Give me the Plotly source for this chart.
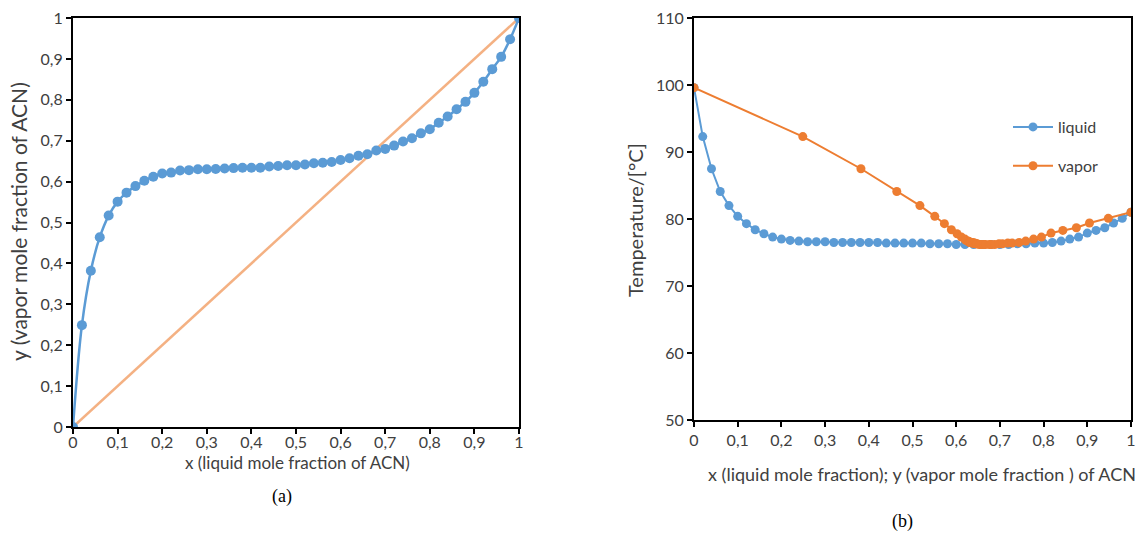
import plotly.graph_objects as go

# ---------------- data ----------------
x_liquid = [0.00, 0.02, 0.04, 0.06, 0.08, 0.10, 0.12, 0.14, 0.16, 0.18,
            0.20, 0.22, 0.24, 0.26, 0.28, 0.30, 0.32, 0.34, 0.36, 0.38,
            0.40, 0.42, 0.44, 0.46, 0.48, 0.50, 0.52, 0.54, 0.56, 0.58,
            0.60, 0.62, 0.64, 0.66, 0.68, 0.70, 0.72, 0.74, 0.76, 0.78,
            0.80, 0.82, 0.84, 0.86, 0.88, 0.90, 0.92, 0.94, 0.96, 0.98, 1.00]

y_vapor = [0.000, 0.249, 0.382, 0.464, 0.517, 0.551, 0.573, 0.589, 0.602, 0.612,
           0.620, 0.622, 0.627, 0.628, 0.630, 0.630, 0.631, 0.632, 0.633, 0.634,
           0.634, 0.634, 0.637, 0.638, 0.640, 0.640, 0.642, 0.645, 0.646, 0.648,
           0.653, 0.657, 0.663, 0.667, 0.676, 0.680, 0.688, 0.698, 0.706, 0.718,
           0.728, 0.744, 0.759, 0.777, 0.795, 0.817, 0.844, 0.875, 0.905, 0.948, 1.000]

temperature = [99.6, 92.3, 87.5, 84.1, 82.0, 80.4, 79.3, 78.4, 77.8, 77.3,
               77.0, 76.8, 76.7, 76.6, 76.6, 76.6, 76.5, 76.5, 76.5, 76.5,
               76.5, 76.5, 76.4, 76.4, 76.4, 76.4, 76.4, 76.3, 76.3, 76.3,
               76.2, 76.2, 76.2, 76.2, 76.2, 76.2, 76.2, 76.3, 76.3, 76.4,
               76.4, 76.5, 76.7, 77.0, 77.3, 77.9, 78.3, 78.7, 79.4, 80.1, 81.0]

diag = [0, 1]

BLUE = "#5B9BD5"
ORANGE = "#ED7D31"
LIGHT_ORANGE = "#F4B183"
FONT = "Lato"
TXT = "#404040"
W, H = 1136, 536


def px(v):
    return v / W


def py(v):
    return 1 - v / H


fig = go.Figure()

# (a) x-y diagram
fig.add_trace(go.Scatter(x=diag, y=diag, mode="lines",
                         line=dict(color=LIGHT_ORANGE, width=2.5),
                         xaxis="x", yaxis="y", showlegend=False))
fig.add_trace(go.Scatter(x=x_liquid, y=y_vapor, mode="lines+markers",
                         line=dict(color=BLUE, width=2.5, shape="spline"),
                         marker=dict(color=BLUE, size=10),
                         xaxis="x", yaxis="y", showlegend=False))

# (b) T-x-y diagram
fig.add_trace(go.Scatter(x=x_liquid, y=temperature, mode="lines+markers",
                         name="liquid",
                         line=dict(color=BLUE, width=2),
                         marker=dict(color=BLUE, size=9),
                         xaxis="x2", yaxis="y2", legendgroup="l"))
fig.add_trace(go.Scatter(x=y_vapor, y=temperature, mode="lines+markers",
                         name="vapor",
                         line=dict(color=ORANGE, width=2),
                         marker=dict(color=ORANGE, size=9),
                         xaxis="x2", yaxis="y2", legendgroup="v"))

axis_common = dict(showline=True, linecolor="black", linewidth=2, mirror=True,
                   ticks="outside", ticklen=5, tickwidth=1.5, tickcolor="black",
                   showgrid=False, zeroline=False,
                   tickfont=dict(family=FONT, size=16, color=TXT),
                   automargin=False)

fig.update_layout(
    width=W, height=H,
    margin=dict(l=0, r=0, t=0, b=0),
    paper_bgcolor="white", plot_bgcolor="white",
    separators=", ",
    font=dict(family=FONT, size=16, color=TXT),
    xaxis=dict(domain=[px(73), px(519)], range=[0, 1], dtick=0.1, anchor="y",
               ticklabelstandoff=-5, **axis_common),
    yaxis=dict(domain=[1 - 427 / H, 1 - 18 / H], range=[0, 1], dtick=0.1, anchor="x", **axis_common),
    xaxis2=dict(domain=[px(694), px(1131)], range=[0, 1], dtick=0.1, anchor="y2", **axis_common),
    yaxis2=dict(domain=[1 - 420 / H, 1 - 18 / H], range=[50, 110], dtick=10, anchor="x2", **axis_common),
    legend=dict(x=px(1008), y=py(110), xanchor="left", yanchor="top",
                bgcolor="rgba(0,0,0,0)", font=dict(family=FONT, size=16, color=TXT),
                tracegroupgap=15, traceorder="grouped", itemwidth=40),
    showlegend=True,
)

annotations = [
    dict(text="x (liquid mole fraction of ACN)", x=px(297), y=py(462), size=17),
    dict(text="y (vapor mole fraction of ACN)", x=px(18), y=py(222), textangle=-90, size=21),
    dict(text="x (liquid mole fraction); y (vapor mole fraction ) of ACN", x=px(922), y=py(474), size=18),
    dict(text="Temperature/[°C]", x=px(635), y=py(220), textangle=-90, size=20),
]
for a in annotations:
    size = a.pop("size")
    fig.add_annotation(xref="paper", yref="paper", showarrow=False,
                       xanchor="center", yanchor="middle",
                       font=dict(family=FONT, size=size, color=TXT), **a)

for txt, xx, yy in [("(a)", 282, 496), ("(b)", 902, 521)]:
    fig.add_annotation(xref="paper", yref="paper", showarrow=False, text=txt,
                       x=px(xx), y=py(yy), xanchor="center", yanchor="middle",
                       font=dict(family="Liberation Serif", size=18, color="black"))

fig.write_html("out.html", config={"displayModeBar": False},
               post_script="document.body.style.margin='0';document.body.style.padding='0';")
